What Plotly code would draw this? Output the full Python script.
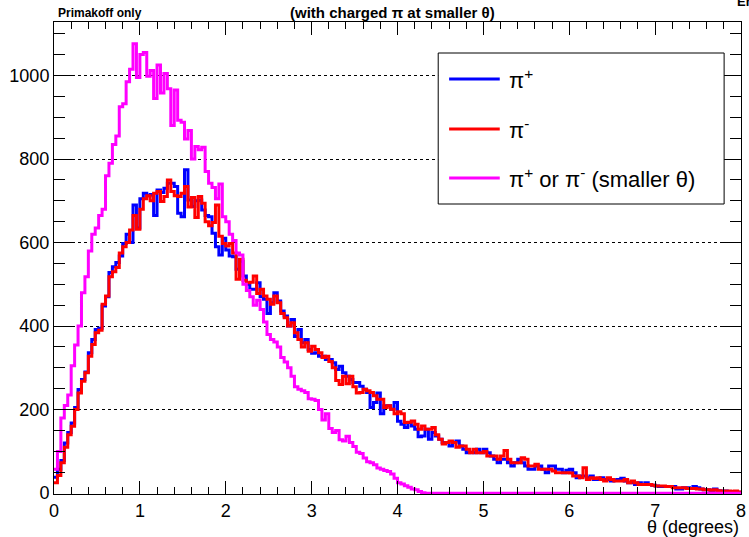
import numpy as np
import plotly.graph_objects as go

# Histogram binning: 200 bins over 0-8 degrees
theta_min, theta_max, n_bins = 0.0, 8.0, 200

# pi+ counts per bin
pi_plus = [
    38, 57, 78, 120, 145, 168, 205, 248, 272, 290,
    336, 368, 392, 395, 448, 470, 528, 542, 552, 568,
    598, 620, 600, 690, 635, 705, 718, 712, 715, 665,
    726, 720, 730, 742, 742, 734, 670, 662, 774, 702,
    686, 700, 702, 678, 665, 662, 622, 590, 570, 610,
    582, 568, 566, 536, 555, 520, 500, 488, 488, 504,
    470, 464, 430, 456, 480, 460, 436, 424, 400, 416,
    375, 392, 360, 368, 344, 335, 336, 328, 328, 320,
    320, 312, 296, 304, 288, 280, 272, 265, 265, 256,
    249, 241, 205, 217, 240, 190, 209, 209, 201, 217,
    172, 165, 157, 169, 161, 153, 135, 137, 153, 129,
    145, 137, 129, 121, 121, 113, 121, 125, 113, 105,
    97, 98, 97, 105, 97, 105, 97, 89, 81, 73,
    81, 81, 73, 65, 73, 81, 73, 65, 57, 57,
    65, 65, 57, 49, 65, 65, 57, 57, 49, 55,
    57, 49, 37, 41, 41, 37, 41, 33, 33, 37,
    33, 33, 29, 32, 33, 36, 29, 25, 25, 21,
    25, 21, 25, 21, 19, 17, 16, 16, 16, 16,
    16, 10, 10, 13, 13, 11, 16, 13, 10, 8,
    8, 6, 10, 6, 5, 5, 4, 3, 3, 2,
]

# pi- counts per bin
pi_minus = [
    25, 42, 73, 110, 140, 160, 200, 240, 268, 288,
    328, 356, 384, 390, 452, 472, 518, 530, 540, 575,
    590, 600, 630, 665, 632, 680, 705, 712, 700, 718,
    722, 698, 710, 750, 722, 712, 710, 718, 734, 685,
    708, 660, 710, 694, 650, 640, 648, 690, 615, 598,
    592, 598, 575, 512, 560, 510, 504, 505, 520, 478,
    488, 472, 464, 452, 472, 456, 430, 420, 400, 408,
    384, 368, 350, 360, 340, 352, 344, 336, 325, 328,
    315, 300, 270, 260, 280, 262, 280, 255, 240, 241,
    249, 245, 241, 233, 225, 225, 205, 209, 201, 190,
    195, 190, 169, 170, 173, 165, 153, 161, 153, 153,
    157, 140, 129, 118, 121, 125, 121, 110, 113, 113,
    105, 97, 105, 97, 97, 100, 89, 89, 89, 81,
    89, 102, 81, 73, 73, 73, 85, 81, 65, 65,
    69, 57, 57, 57, 57, 53, 49, 49, 49, 49,
    48, 41, 41, 37, 61, 33, 37, 35, 37, 33,
    29, 37, 33, 29, 29, 29, 33, 25, 29, 25,
    21, 21, 21, 21, 19, 17, 17, 17, 16, 16,
    13, 13, 13, 13, 11, 11, 11, 10, 10, 8,
    8, 7, 8, 6, 5, 5, 5, 4, 5, 3,
]

# charged pion with the smaller polar angle, counts per bin (zero above 4.3 deg)
pi_smaller = [
    57, 100, 180, 210, 235, 305, 355, 400, 480, 518,
    580, 620, 635, 665, 680, 760, 790, 835, 855, 925,
    932, 985, 1015, 1076, 995, 1050, 1055, 998, 1012, 945,
    1025, 958, 1005, 968, 880, 965, 893, 888, 848, 868,
    800, 830, 822, 828, 770, 742, 732, 705, 740, 662,
    650, 620, 605, 575, 570, 500, 485, 470, 450, 462,
    440, 410, 380, 368, 362, 350, 325, 314, 300, 280,
    255, 249, 245, 241, 226, 225, 222, 200, 175, 190,
    155, 145, 150, 128, 125, 136, 121, 112, 98, 95,
    84, 75, 73, 68, 60, 57, 54, 52, 46, 36,
    25, 22, 18, 14, 10, 8, 4, 1,
] + [0] * 92

x_ticks = [0, 1, 2, 3, 4, 5, 6, 7, 8]
y_ticks = [0, 200, 400, 600, 800, 1000]

edges = np.linspace(theta_min, theta_max, n_bins + 1)

series = [
    ("π<sup>+</sup>", pi_plus, "#0000ff"),
    ("π<sup>-</sup>", pi_minus, "#ff0000"),
    ("π<sup>+</sup> or π<sup>-</sup> (smaller θ)", pi_smaller, "#ff00ff"),
]

FONT = "Liberation Sans, Arial, Helvetica, sans-serif"

fig = go.Figure()
for name, counts, color in series:
    counts = np.asarray(counts, dtype=float)
    fig.add_trace(go.Scatter(
        x=edges,
        y=np.append(counts, counts[-1]),
        mode="lines",
        line=dict(color=color, width=3, shape="hv"),
        name=name,
        showlegend=False,
        hoverinfo="skip",
    ))

# Plot-area geometry in pixels, used to place the legend box
W, H = 749, 537
ML, MR, MT, MB = 54, 3, 22, 43
PW, PH = W - ML - MR, H - MT - MB


def px(x):
    return (x - ML) / PW


def py(y):
    return (H - MB - y) / PH


shapes = [dict(type="rect", xref="paper", yref="paper",
               x0=px(441), x1=px(729), y0=py(204), y1=py(53),
               line=dict(color="black", width=1), fillcolor="white", layer="above")]
annotations = []
for (name, _, color), ly in zip(series, [79, 129, 178]):
    shapes.append(dict(type="line", xref="paper", yref="paper",
                       x0=px(452), x1=px(503), y0=py(ly), y1=py(ly),
                       line=dict(color=color, width=3), layer="above"))
    annotations.append(dict(text=name, xref="paper", yref="paper",
                            x=px(510), y=py(ly), xanchor="left", yanchor="middle",
                            showarrow=False, font=dict(family=FONT, size=22, color="black")))

annotations += [
    dict(text="<b>Primakoff only</b>", xref="paper", yref="paper",
         x=px(56), y=py(13), xanchor="left", yanchor="middle", showarrow=False,
         font=dict(family=FONT, size=12, color="black")),
    dict(text="<b>(with charged π at smaller θ)</b>", xref="paper", yref="paper",
         x=px(395), y=py(13), xanchor="center", yanchor="middle", showarrow=False,
         font=dict(family=FONT, size=15, color="black")),
    dict(text="<b>Entries</b>", xref="paper", yref="paper",
         x=px(740), y=py(2), xanchor="left", yanchor="middle", showarrow=False,
         font=dict(family=FONT, size=13, color="black")),
    dict(text="θ (degrees)", xref="paper", yref="paper",
         x=1.0, y=py(527), xanchor="right", yanchor="middle", showarrow=False,
         font=dict(family=FONT, size=18, color="black")),
]

fig.update_layout(
    width=W, height=H,
    margin=dict(l=ML, r=MR, t=MT, b=MB, pad=0),
    paper_bgcolor="white", plot_bgcolor="white",
    font=dict(family=FONT, size=18, color="black"),
    shapes=shapes, annotations=annotations,
    showlegend=False,
)
fig.update_xaxes(
    range=[theta_min, theta_max],
    tickvals=x_ticks, ticktext=[str(v) for v in x_ticks],
    ticks="inside", ticklen=13, tickwidth=1, tickcolor="black",
    minor=dict(dtick=0.2, ticks="inside", ticklen=7, tickcolor="black", showgrid=False),
    showline=True, linecolor="black", linewidth=1, mirror="ticks",
    showgrid=False, zeroline=False,
    ticklabeloverflow="allow",
    tickfont=dict(family=FONT, size=18),
)
fig.update_yaxes(
    range=[-2, 1128],
    tickvals=y_ticks, ticktext=[str(v) for v in y_ticks],
    ticks="inside", ticklen=21, tickwidth=1, tickcolor="black",
    minor=dict(dtick=50, tick0=0, ticks="inside", ticklen=11, tickcolor="black", showgrid=False),
    showline=True, linecolor="black", linewidth=1, mirror="ticks",
    showgrid=True, gridcolor="black", gridwidth=1, griddash="dot",
    zeroline=False,
    tickfont=dict(family=FONT, size=18),
)

fig.write_html("out.html")
